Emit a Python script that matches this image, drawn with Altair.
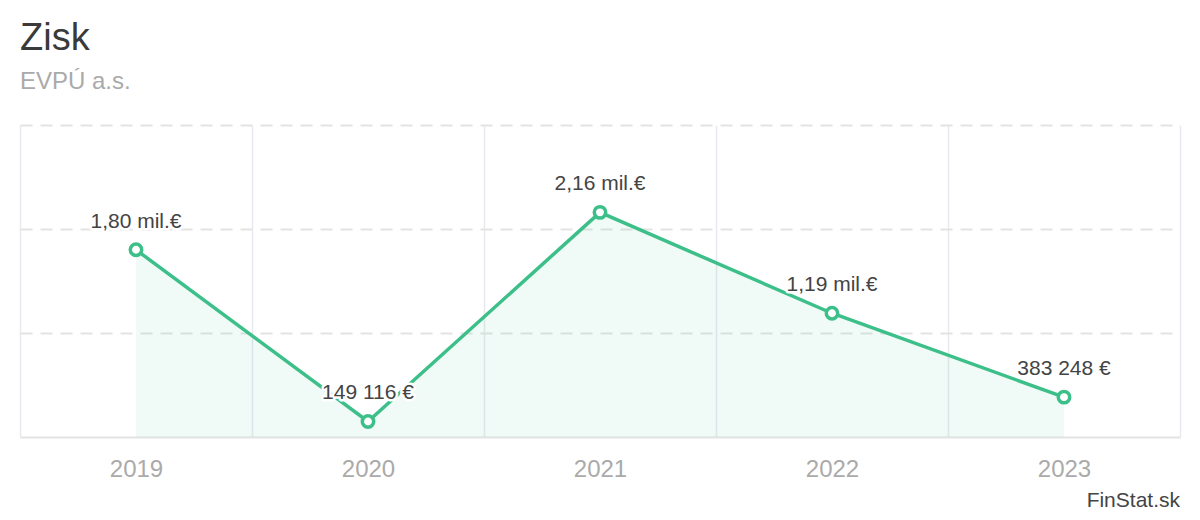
import altair as alt
import pandas as pd

years = ["2019", "2020", "2021", "2022", "2023"]
profit = [1800000, 149116, 2160000, 1190000, 383248]
labels = ["1,80 mil.€", "149 116 €", "2,16 mil.€", "1,19 mil.€", "383 248 €"]
grid_values = [1000000, 2000000, 3000000]

df = pd.DataFrame({"year": years, "profit": profit, "label": labels})

GREEN = "#3dbf8a"
FONT = "Liberation Sans"
W, H = 1160, 312

x = alt.X(
    "year:O",
    scale=alt.Scale(type="band", paddingInner=0, paddingOuter=0),
    axis=alt.Axis(
        title=None, labelAngle=0, labelFontSize=24, labelColor="#aaaaaa",
        labelFont=FONT, labelPadding=39, labelBaseline="alphabetic",
        ticks=False, tickSize=0, domainColor="#e3e3e3", domainWidth=2,
        grid=True, gridColor="#e6e9ee", gridWidth=1.5, tickBand="extent",
    ),
)
y = alt.Y(
    "profit:Q",
    scale=alt.Scale(domain=[0, 3000000], nice=False),
    axis=alt.Axis(
        title=None, labels=False, ticks=False, domain=False,
        values=grid_values, gridColor="#e3e3e3", gridDash=[12, 8], gridWidth=2,
    ),
)

base = alt.Chart(df)
area = base.mark_area(color=GREEN, opacity=0.08).encode(x=x, y=y)
line = base.mark_line(color=GREEN, strokeWidth=3.5).encode(x=x, y=y)
points = base.mark_point(
    filled=True, fill="white", stroke=GREEN, strokeWidth=3.5, size=130, opacity=1
).encode(x=x, y=y)
halo = base.mark_text(
    font=FONT, fontSize=21, baseline="alphabetic", dy=-22,
    color="white", stroke="white", strokeWidth=5, strokeJoin="round",
).encode(x=x, y=y, text="label:N")
text = base.mark_text(
    font=FONT, fontSize=21, baseline="alphabetic", dy=-22, color="#444444",
).encode(x=x, y=y, text="label:N")

credit = alt.Chart(pd.DataFrame({"t": ["FinStat.sk"]})).mark_text(
    font=FONT, fontSize=21, align="right", baseline="bottom", color="#444444",
).encode(x=alt.value(W), y=alt.value(H + 74), text="t:N")

chart = alt.layer(area, line, points, halo, text, credit).properties(
    width=W,
    height=H,
    title=alt.TitleParams(
        text="Zisk", subtitle="EVPÚ a.s.", anchor="start",
        font=FONT, subtitleFont=FONT, fontSize=38, subtitleFontSize=24,
        fontWeight="normal", color="#3a3a3a", subtitleColor="#aaaaaa",
        offset=31, subtitlePadding=12,
    ),
    autosize=alt.AutoSizeParams(type="none"),
    padding={"left": 12, "top": 117, "right": 12, "bottom": 75},
).configure_view(stroke=None)

chart.save("out.html", embed_options={"renderer": "svg", "actions": False})
